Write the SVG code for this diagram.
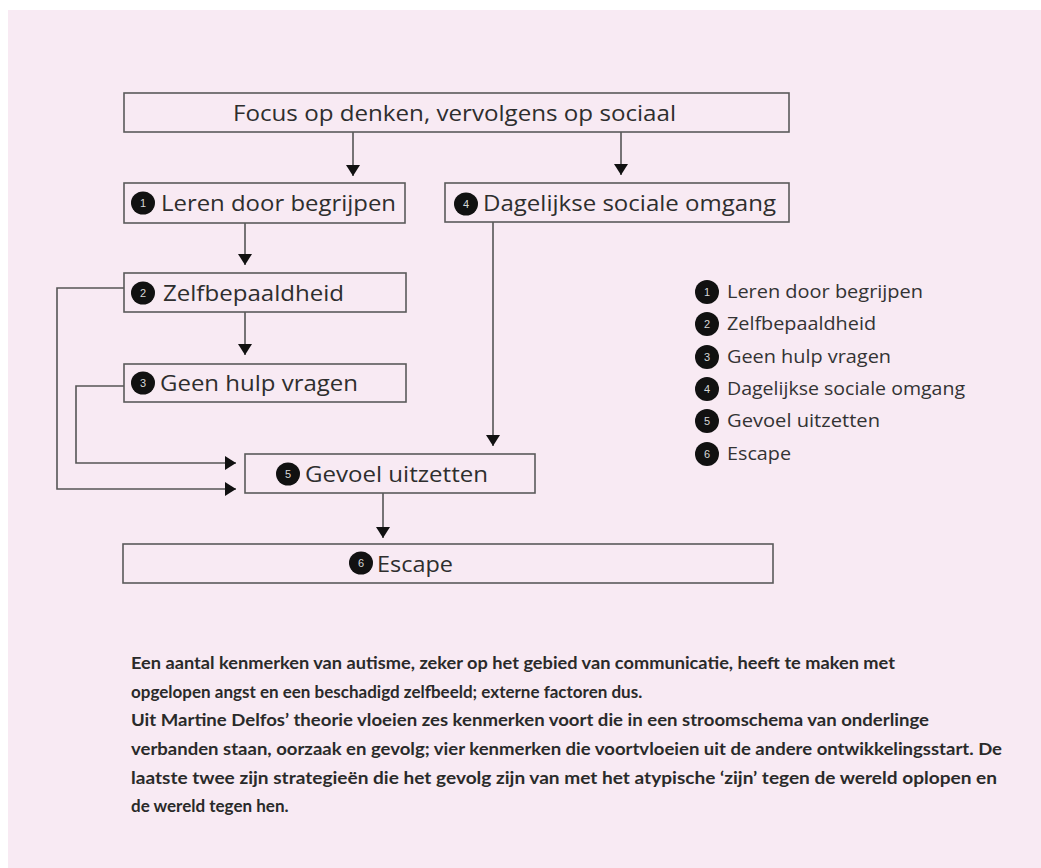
<svg xmlns="http://www.w3.org/2000/svg" width="1041" height="868" viewBox="0 0 1041 868">
<defs>
<marker id="ah" markerUnits="userSpaceOnUse" markerWidth="11" markerHeight="14" refX="11" refY="7" orient="auto" viewBox="0 0 11 14">
<path d="M0,0 L11,7 L0,14 z" fill="#111"/>
</marker>
</defs>
<style>
.box{fill:none;stroke:#5a5a5a;stroke-width:1.6}
.lbl{font-family:"Open Sans","Liberation Sans",sans-serif;font-size:22px;fill:#2e2e2e}
.num{fill:#111}
.nt{font-family:"Liberation Sans",sans-serif;font-size:11px;fill:#d8d8d8;text-anchor:middle}
.leg{font-family:"Open Sans","Liberation Sans",sans-serif;font-size:18px;fill:#333}
.con{fill:none;stroke:#555;stroke-width:1.6;marker-end:url(#ah)}
.body{font-family:"Lato","Open Sans",sans-serif;font-weight:bold;font-size:17px;fill:#2a2a2a}
</style>
<rect x="0" y="0" width="1041" height="868" fill="#ffffff"/>
<rect x="8" y="10" width="1033" height="858" fill="#f8eaf3"/>

<g id="connectors">
<path class="con" d="M353,132 V176"/>
<path class="con" d="M621,132 V175"/>
<path class="con" d="M245,223 V265"/>
<path class="con" d="M245,312 V355"/>
<path class="con" d="M493,222 V446"/>
<path class="con" d="M124,386 H76 V463 H236"/>
<path class="con" d="M124,288 H57 V489 H236"/>
<path class="con" d="M383,493 V538"/>
</g>

<g id="node-top">
<rect class="box" x="124" y="93" width="665" height="39"/>
<text class="lbl" x="233" y="121" textLength="443" lengthAdjust="spacingAndGlyphs">Focus op denken, vervolgens op sociaal</text>
</g>
<g id="node-1">
<rect class="box" x="124" y="183" width="281" height="40"/>
<ellipse class="num" cx="143" cy="203" rx="12" ry="11.5"/><text class="nt" x="143" y="207">1</text>
<text class="lbl" x="161" y="211" textLength="235" lengthAdjust="spacingAndGlyphs">Leren door begrijpen</text>
</g>
<g id="node-4">
<rect class="box" x="445" y="183" width="344" height="39"/>
<ellipse class="num" cx="466" cy="204" rx="12" ry="11.5"/><text class="nt" x="466" y="208">4</text>
<text class="lbl" x="483" y="211" textLength="293" lengthAdjust="spacingAndGlyphs">Dagelijkse sociale omgang</text>
</g>
<g id="node-2">
<rect class="box" x="124" y="273" width="282" height="39"/>
<ellipse class="num" cx="143" cy="293" rx="12" ry="11.5"/><text class="nt" x="143" y="297">2</text>
<text class="lbl" x="163" y="301" textLength="181" lengthAdjust="spacingAndGlyphs">Zelfbepaaldheid</text>
</g>
<g id="node-3">
<rect class="box" x="124" y="364" width="282" height="38"/>
<ellipse class="num" cx="143" cy="383" rx="12" ry="11.5"/><text class="nt" x="143" y="387">3</text>
<text class="lbl" x="160" y="391" textLength="198" lengthAdjust="spacingAndGlyphs">Geen hulp vragen</text>
</g>
<g id="node-5">
<rect class="box" x="245" y="454" width="290" height="39"/>
<ellipse class="num" cx="288" cy="474" rx="12" ry="11.5"/><text class="nt" x="288" y="478">5</text>
<text class="lbl" x="305" y="482" textLength="183" lengthAdjust="spacingAndGlyphs">Gevoel uitzetten</text>
</g>
<g id="node-6">
<rect class="box" x="123" y="544" width="650" height="39"/>
<ellipse class="num" cx="361" cy="563" rx="12" ry="11.5"/><text class="nt" x="361" y="567">6</text>
<text class="lbl" x="377" y="572" textLength="76" lengthAdjust="spacingAndGlyphs">Escape</text>
</g>

<g id="legend">
<circle class="num" cx="707" cy="292" r="12"/><text class="nt" x="707" y="296">1</text>
<text class="leg" x="727" y="298" textLength="196" lengthAdjust="spacingAndGlyphs">Leren door begrijpen</text>
<circle class="num" cx="707" cy="324" r="12"/><text class="nt" x="707" y="328">2</text>
<text class="leg" x="727" y="330" textLength="149" lengthAdjust="spacingAndGlyphs">Zelfbepaaldheid</text>
<circle class="num" cx="707" cy="357" r="12"/><text class="nt" x="707" y="361">3</text>
<text class="leg" x="727" y="363" textLength="164" lengthAdjust="spacingAndGlyphs">Geen hulp vragen</text>
<circle class="num" cx="707" cy="389" r="12"/><text class="nt" x="707" y="393">4</text>
<text class="leg" x="727" y="395" textLength="238" lengthAdjust="spacingAndGlyphs">Dagelijkse sociale omgang</text>
<circle class="num" cx="707" cy="421" r="12"/><text class="nt" x="707" y="425">5</text>
<text class="leg" x="727" y="427" textLength="153" lengthAdjust="spacingAndGlyphs">Gevoel uitzetten</text>
<circle class="num" cx="707" cy="454" r="12"/><text class="nt" x="707" y="458">6</text>
<text class="leg" x="727" y="460" textLength="64" lengthAdjust="spacingAndGlyphs">Escape</text>
</g>

<g id="caption">
<text class="body" x="131" y="669" textLength="764" lengthAdjust="spacingAndGlyphs">Een aantal kenmerken van autisme, zeker op het gebied van communicatie, heeft te maken met</text>
<text class="body" x="131" y="698">opgelopen angst en een beschadigd zelfbeeld; externe factoren dus.</text>
<text class="body" x="131" y="726" textLength="798" lengthAdjust="spacingAndGlyphs">Uit Martine Delfos’ theorie vloeien zes kenmerken voort die in een stroomschema van onderlinge</text>
<text class="body" x="131" y="755" textLength="871" lengthAdjust="spacingAndGlyphs">verbanden staan, oorzaak en gevolg; vier kenmerken die voortvloeien uit de andere ontwikkelingsstart. De</text>
<text class="body" x="131" y="784" textLength="866" lengthAdjust="spacingAndGlyphs">laatste twee zijn strategieën die het gevolg zijn van met het atypische ‘zijn’ tegen de wereld oplopen en</text>
<text class="body" x="131" y="812">de wereld tegen hen.</text>
</g>
</svg>
